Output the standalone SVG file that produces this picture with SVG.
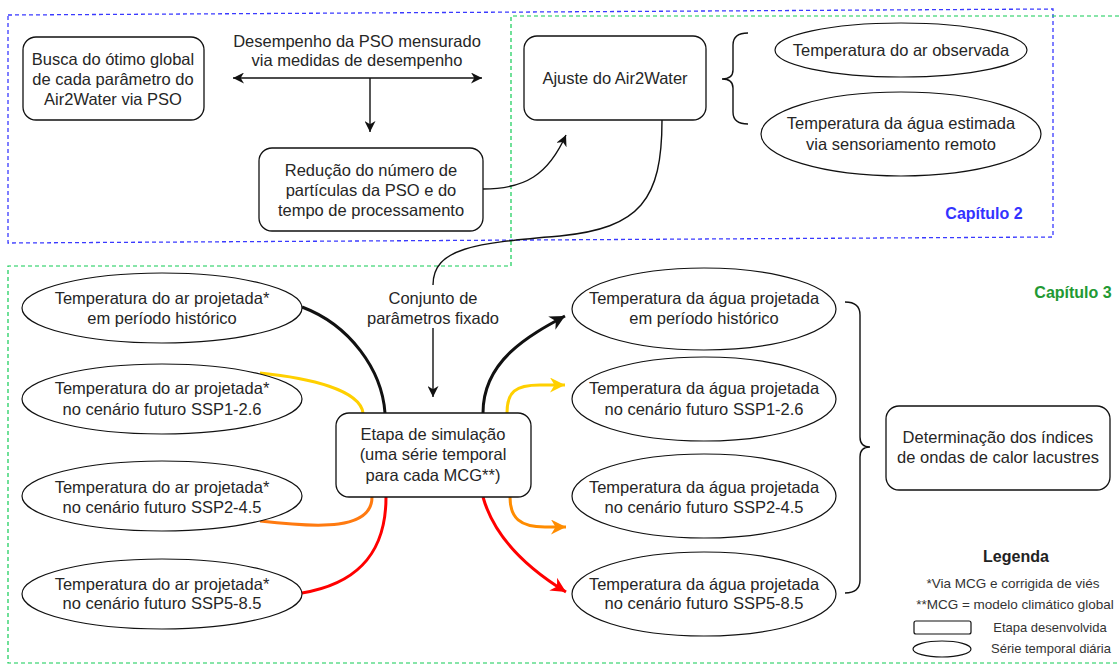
<svg xmlns="http://www.w3.org/2000/svg" width="1119" height="666" viewBox="0 0 1119 666">
<style>
  .t{font-family:"Liberation Sans",Arial,sans-serif;font-size:16.5px;fill:#262626;text-anchor:middle}
  .s{font-family:"Liberation Sans",Arial,sans-serif;font-size:13px;fill:#333;text-anchor:middle}
  .box{fill:#fff;stroke:#111;stroke-width:1.3}
  .ell{fill:#fff;stroke:#111;stroke-width:1.2}
  .thin{fill:none;stroke:#111;stroke-width:1.4}
  .thick{fill:none;stroke-width:3}
</style>
<defs>
  <marker id="aK" viewBox="0 0 10 10" refX="10" refY="5" markerWidth="11" markerHeight="11" markerUnits="userSpaceOnUse" orient="auto-start-reverse"><path d="M0,0 L10,5 L0,10 L3,5 z" fill="#111"/></marker>
  <marker id="aKL" viewBox="0 0 10 10" refX="10" refY="5" markerWidth="15" markerHeight="15" markerUnits="userSpaceOnUse" orient="auto"><path d="M0,0 L10,5 L0,10 L3,5 z" fill="#111"/></marker>
  <marker id="aY" viewBox="0 0 10 10" refX="10" refY="5" markerWidth="15" markerHeight="15" markerUnits="userSpaceOnUse" orient="auto"><path d="M0,0 L10,5 L0,10 L3,5 z" fill="#ffd000"/></marker>
  <marker id="aO" viewBox="0 0 10 10" refX="10" refY="5" markerWidth="15" markerHeight="15" markerUnits="userSpaceOnUse" orient="auto"><path d="M0,0 L10,5 L0,10 L3,5 z" fill="#ff8c00"/></marker>
  <marker id="aR" viewBox="0 0 10 10" refX="10" refY="5" markerWidth="15" markerHeight="15" markerUnits="userSpaceOnUse" orient="auto"><path d="M0,0 L10,5 L0,10 L3,5 z" fill="#ff0000"/></marker>
</defs>
<rect width="1119" height="666" fill="#fff"/>

<g id="chapters">
  <polygon points="8,15 1053,9 1053,237 8,243" fill="none" stroke="#3a3aff" stroke-width="1.3" stroke-dasharray="4,3"/>
  <polyline points="1119,16 511,16 511,266 8,266 8,663 1119,663" fill="none" stroke="#11cc55" stroke-width="1.2" stroke-dasharray="4,3"/>
  <text x="984" y="219" style="font-family:'Liberation Sans',Arial,sans-serif;font-size:16px;font-weight:bold;fill:#3333ff;text-anchor:middle">Capítulo 2</text>
  <text x="1073" y="298" style="font-family:'Liberation Sans',Arial,sans-serif;font-size:16px;font-weight:bold;fill:#229933;text-anchor:middle">Capítulo 3</text>
</g>

<g id="connectors">
  <line x1="233" y1="78" x2="482" y2="78" class="thin" marker-start="url(#aK)" marker-end="url(#aK)"/>
  <line x1="370" y1="78" x2="370" y2="132" class="thin" marker-end="url(#aK)"/>
  <path d="M483,189 C525,189 548,175 566,135" class="thin" marker-end="url(#aK)"/>
  <path d="M662,120 C662,200 640,228 560,236 C475,243 433,248 433,285" class="thin"/>
  <line x1="433" y1="328" x2="433" y2="397" class="thin" marker-end="url(#aK)"/>
  <path d="M302,307 C350,325 382,370 385,413" class="thick" stroke="#111"/>
  <path d="M260,373 C310,378 360,390 363,413" class="thick" stroke="#ffd000"/>
  <path d="M260,521 C320,528 372,530 372,497" class="thick" stroke="#ff7a10"/>
  <path d="M302,593 C350,585 386,560 386,497" class="thick" stroke="#ff0000"/>
  <path d="M483,413 C483,360 530,335 565,316" class="thick" stroke="#111" marker-end="url(#aKL)"/>
  <path d="M507,413 C507,392 515,385 540,385 L565,385" class="thick" stroke="#ffd000" marker-end="url(#aY)"/>
  <path d="M510,497 C510,518 520,527 545,527 L566,527" class="thick" stroke="#ff8c00" marker-end="url(#aO)"/>
  <path d="M483,497 C495,540 530,570 566,592" class="thick" stroke="#ff0000" marker-end="url(#aR)"/>
  <path d="M748,33 Q733,33 733,45 L733,70 Q733,79 722,79 Q733,79 733,88 L733,112 Q733,124 748,124" class="thin"/>
  <path d="M845,302 Q860,302 860,315 L860,437 Q860,447 870,447 Q860,447 860,457 L860,580 Q860,593 845,593" class="thin"/>
</g>

<g id="n-busca">
  <rect x="23" y="37" width="181" height="83" rx="13" class="box"/>
  <text class="t" x="113" y="65">Busca do ótimo global</text>
  <text class="t" x="113" y="85">de cada parâmetro do</text>
  <text class="t" x="113" y="105">Air2Water via PSO</text>
</g>
<g id="n-desempenho">
  <text class="t" x="357" y="47">Desempenho da PSO mensurado</text>
  <text class="t" x="357" y="66">via medidas de desempenho</text>
</g>
<g id="n-reducao">
  <rect x="259" y="148" width="224" height="83" rx="13" class="box"/>
  <text class="t" x="371" y="176">Redução do número de</text>
  <text class="t" x="371" y="196">partículas da PSO e do</text>
  <text class="t" x="371" y="216">tempo de processamento</text>
</g>
<g id="n-ajuste">
  <rect x="524" y="36" width="182" height="84" rx="13" class="box"/>
  <text class="t" x="615" y="84">Ajuste do Air2Water</text>
</g>
<g id="n-ar-obs">
  <ellipse cx="901" cy="50" rx="126" ry="27" class="ell"/>
  <text class="t" x="901" y="56">Temperatura do ar observada</text>
</g>
<g id="n-agua-est">
  <ellipse cx="901" cy="134" rx="140" ry="42" class="ell"/>
  <text class="t" x="901" y="129">Temperatura da água estimada</text>
  <text class="t" x="901" y="150">via sensoriamento remoto</text>
</g>
<g id="n-conjunto">
  <text class="t" x="433" y="304">Conjunto de</text>
  <text class="t" x="433" y="324">parâmetros fixado</text>
</g>
<g id="n-ar1">
  <ellipse cx="162" cy="308" rx="140" ry="35" class="ell"/>
  <text class="t" x="162" y="304">Temperatura do ar projetada*</text>
  <text class="t" x="162" y="324">em período histórico</text>
</g>
<g id="n-ar2">
  <ellipse cx="162" cy="399" rx="140" ry="35" class="ell"/>
  <text class="t" x="162" y="394">Temperatura do ar projetada*</text>
  <text class="t" x="162" y="415">no cenário futuro SSP1-2.6</text>
</g>
<g id="n-ar3">
  <ellipse cx="162" cy="496" rx="140" ry="35" class="ell"/>
  <text class="t" x="162" y="493">Temperatura do ar projetada*</text>
  <text class="t" x="162" y="513">no cenário futuro SSP2-4.5</text>
</g>
<g id="n-ar4">
  <ellipse cx="162" cy="594" rx="140" ry="35" class="ell"/>
  <text class="t" x="162" y="590">Temperatura do ar projetada*</text>
  <text class="t" x="162" y="609">no cenário futuro SSP5-8.5</text>
</g>
<g id="n-etapa">
  <rect x="336" y="413" width="195" height="84" rx="13" class="box"/>
  <text class="t" x="433" y="440">Etapa de simulação</text>
  <text class="t" x="433" y="460">(uma série temporal</text>
  <text class="t" x="433" y="481">para cada MCG**)</text>
</g>
<g id="n-agua1">
  <ellipse cx="704" cy="309" rx="132" ry="41" class="ell"/>
  <text class="t" x="704" y="304">Temperatura da água projetada</text>
  <text class="t" x="704" y="324">em período histórico</text>
</g>
<g id="n-agua2">
  <ellipse cx="704" cy="399" rx="132" ry="42" class="ell"/>
  <text class="t" x="704" y="394">Temperatura da água projetada</text>
  <text class="t" x="704" y="415">no cenário futuro SSP1-2.6</text>
</g>
<g id="n-agua3">
  <ellipse cx="704" cy="496" rx="132" ry="42" class="ell"/>
  <text class="t" x="704" y="493">Temperatura da água projetada</text>
  <text class="t" x="704" y="513">no cenário futuro SSP2-4.5</text>
</g>
<g id="n-agua4">
  <ellipse cx="704" cy="594" rx="132" ry="42" class="ell"/>
  <text class="t" x="704" y="590">Temperatura da água projetada</text>
  <text class="t" x="704" y="609">no cenário futuro SSP5-8.5</text>
</g>
<g id="n-determinacao">
  <rect x="886" y="406" width="224" height="84" rx="13" class="box"/>
  <text class="t" x="998" y="443">Determinação dos índices</text>
  <text class="t" x="998" y="463">de ondas de calor lacustres</text>
</g>
<g id="legend">
  <text x="1016" y="562" style="font-family:'Liberation Sans',Arial,sans-serif;font-size:16px;font-weight:bold;fill:#222;text-anchor:middle">Legenda</text>
  <text class="s" x="1013" y="588" style="font-size:13.5px">*Via MCG e corrigida de viés</text>
  <text class="s" x="1015" y="609" style="font-size:13.5px">**MCG = modelo climático global</text>
  <rect x="914" y="621" width="57" height="13" rx="2" fill="#fff" stroke="#111" stroke-width="1.2"/>
  <text class="s" x="1050" y="632">Etapa desenvolvida</text>
  <ellipse cx="942" cy="649" rx="29" ry="8" class="ell"/>
  <text class="s" x="1051" y="653">Série temporal diária</text>
</g>
</svg>
